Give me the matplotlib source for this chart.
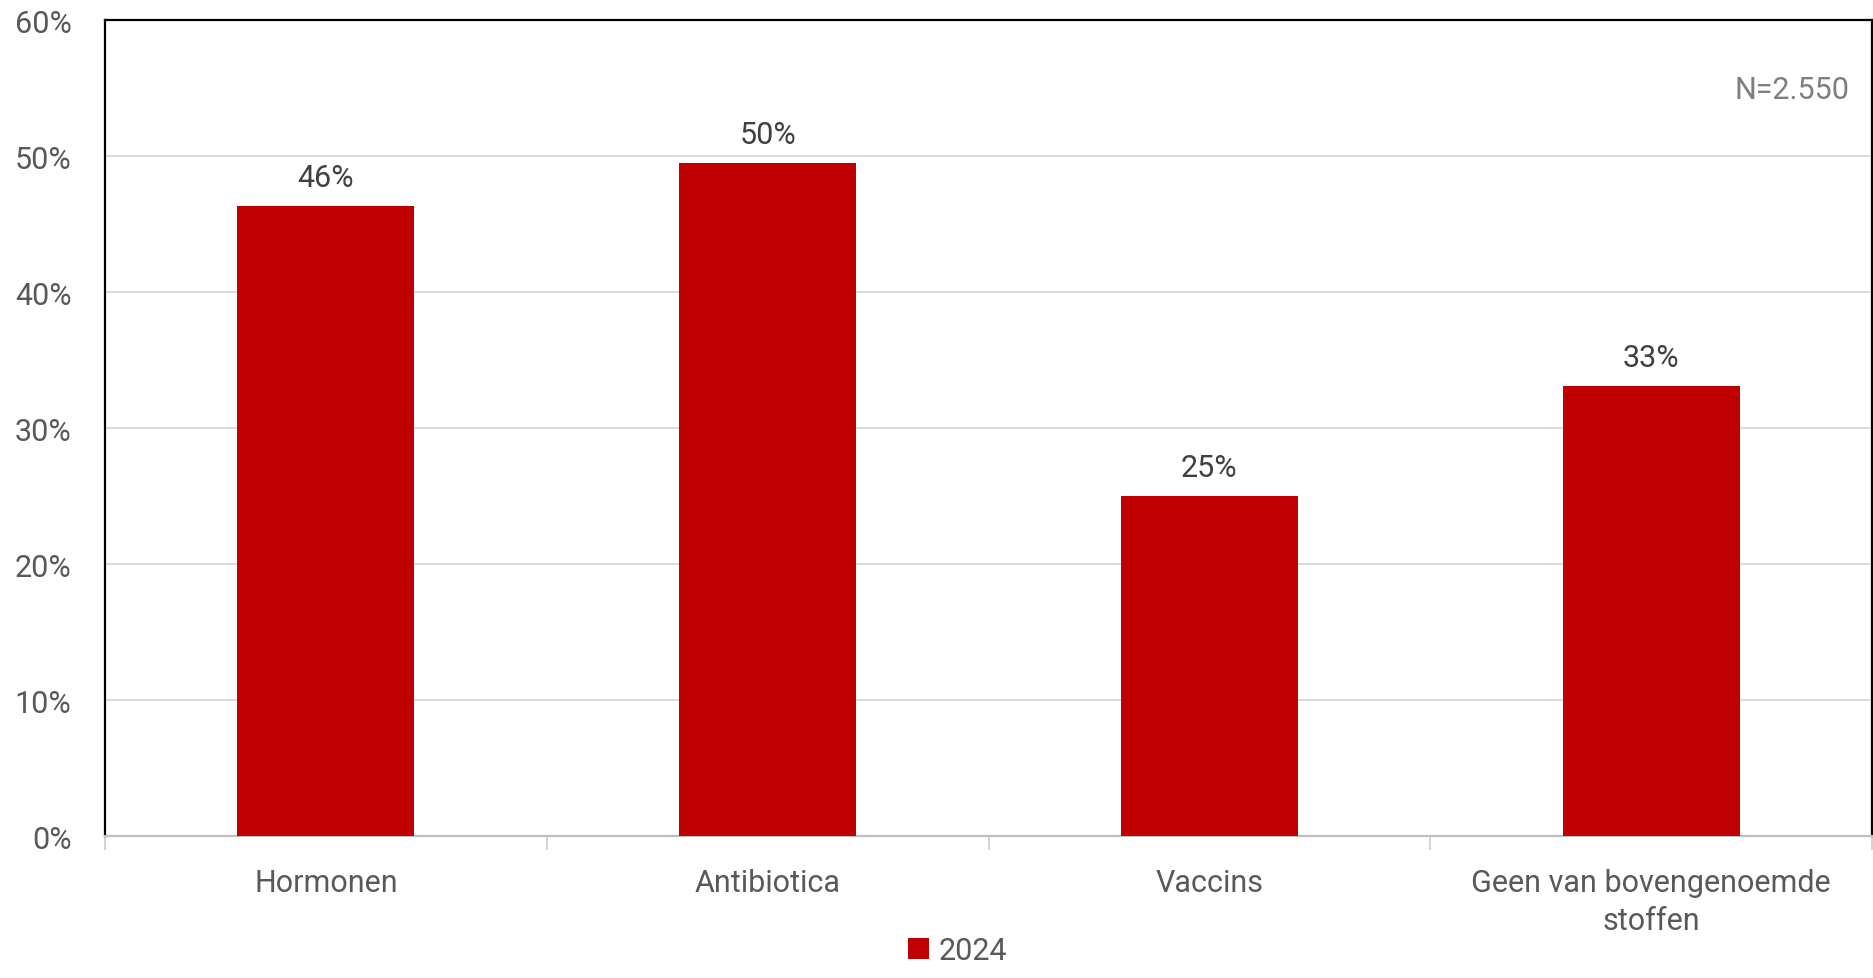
import matplotlib
matplotlib.use("Agg")
import matplotlib.pyplot as plt
from matplotlib.ticker import FixedLocator, PercentFormatter
from matplotlib.patches import Patch
import numpy as np

categories = ["Hormonen", "Antibiotica", "Vaccins", "Geen van bovengenoemde\nstoffen"]
values_2024 = [46.3, 49.5, 25.0, 33.1]
value_labels = ["46%", "50%", "25%", "33%"]
series_name = "2024"
yticks = [0, 10, 20, 30, 40, 50, 60]
n_text = "N=2.550"

plt.rcParams['font.family'] = ['Roboto', 'DejaVu Sans']

fig = plt.figure(figsize=(18.74, 9.79), dpi=100)
ax = fig.add_axes([0.056, 0.145, 0.943, 0.8335])

x = np.arange(len(categories))
red = "#C00000"
bars = ax.bar(x, values_2024, width=0.4, color=red, zorder=3)

ax.set_xlim(-0.5, len(categories) - 0.5)
ax.set_ylim(0, 60)
ax.set_yticks(yticks)
ax.yaxis.set_major_formatter(PercentFormatter(decimals=0))
ax.grid(axis='y', color='#d9d9d9', linewidth=1.3, zorder=0)
ax.set_axisbelow(True)

for sp in ['left', 'top', 'right']:
    ax.spines[sp].set_color('black')
    ax.spines[sp].set_linewidth(1.6)
ax.spines['bottom'].set_color('#bfbfbf')
ax.spines['bottom'].set_linewidth(1.6)

fs = 22
ax.tick_params(axis='y', length=0, pad=24, labelsize=fs, labelcolor='#595959')
ax.set_xticks(x)
ax.set_xticklabels(categories, fontsize=fs, color='#595959', linespacing=1.4)
ax.tick_params(axis='x', which='major', length=0, pad=23)
ax.xaxis.set_minor_locator(FixedLocator(np.arange(-0.5, len(categories), 1.0)))
ax.tick_params(axis='x', which='minor', length=10, width=1.3, color='#d0d0d0')

for xi, v, lab in zip(x, values_2024, value_labels):
    ax.annotate(lab, (xi, v), xytext=(0, 10), textcoords='offset points',
                ha='center', va='bottom', fontsize=fs, color='#404040')

ax.text(0.987, 0.915, n_text, transform=ax.transAxes, ha='right', va='center',
        fontsize=fs, color='#7f7f7f')

handles = [Patch(facecolor=red, edgecolor='none', label=series_name)]
fig.legend(handles=handles, loc='center', bbox_to_anchor=(0.511, 0.028), frameon=False,
           fontsize=fs, handlelength=0.7, handleheight=0.7, handletextpad=0.3,
           labelcolor='#595959')

fig.savefig("out.png", dpi=100, facecolor='white')
